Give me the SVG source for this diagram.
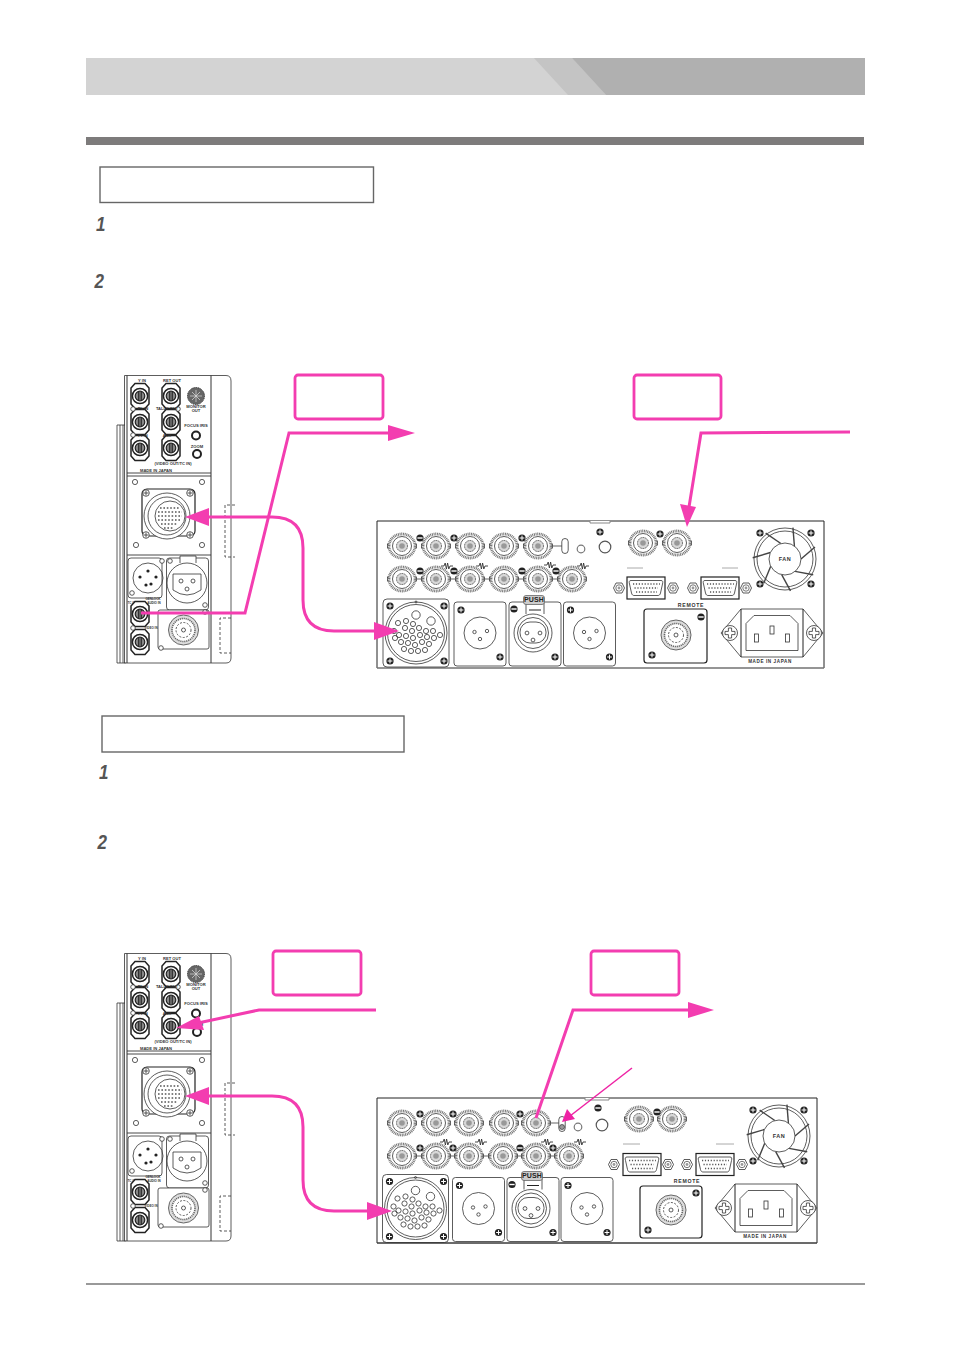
<svg xmlns="http://www.w3.org/2000/svg" xmlns:xlink="http://www.w3.org/1999/xlink" width="954" height="1350" viewBox="0 0 954 1350">
<style>
text{font-family:"Liberation Sans",Arial,sans-serif;font-weight:bold;fill:#333;text-anchor:middle}
.n{font-size:20px;font-style:italic;fill:#555;text-anchor:start}
.t4{font-size:4.100px}
.t5{font-size:5.200px;letter-spacing:.7px}
.o{fill:none;stroke:#333;stroke-width:.8}
.w{fill:#fff;stroke:#333;stroke-width:.8}
.k{fill:#fff;stroke:#222;stroke-width:1.200}
.g{fill:none;stroke:#999;stroke-width:1.500}
.hb{fill:none;stroke:#f33db0;stroke-width:3;stroke-linejoin:miter}
.pk{fill:#f33db0}
.call{fill:#fff;stroke:#f33db0;stroke-width:2.800}
.lbl{fill:#fff;stroke:#666;stroke-width:1.400}
</style>
<defs>
<g id="screw"><circle r="3.600" fill="#222"/><path d="M-2.400 0H2.400M0-2.400V2.400" stroke="#fff" stroke-width="1"/></g>
<g id="bigscrew"><circle r="7.500" class="w"/><path d="M-1.600-5H1.600V-1.600H5V1.600H1.600V5H-1.600V1.600H-5V-1.600H-1.600Z" class="w"/></g>
<g id="minus"><circle r="3.600" fill="#222"/><path d="M-2.600 0H2.600" stroke="#fff" stroke-width="1.400"/></g>
<g id="hole"><circle r="2.600" class="w"/></g>
<g id="bnc"><rect x="-14.500" y="-2" width="2" height="4" class="o"/><rect x="12.500" y="-2" width="2" height="4" class="o"/><ellipse rx="13" ry="12" fill="#fff" stroke="#777" stroke-width="2.800" stroke-dasharray="1 .7"/><circle r="9.500" class="w"/><circle r="5.500" fill="#d8d8d8" stroke="#555" stroke-width="1" stroke-dasharray="1.200 .6"/><circle r="2.800" fill="#999"/></g>
<g id="sbnc"><path d="M-5-12.500H5L9-8V8L5 12.500H-5L-9 8V-8Z" fill="#fff" stroke="#222" stroke-width="1.500"/><circle r="7.600" fill="#fff" stroke="#222" stroke-width="1.500"/><circle r="4.800" fill="#888" stroke="#222" stroke-width="1.200"/><path d="M-1.200-4V4M1.200-4V4" stroke="#111" stroke-width="1"/></g>
<path id="res" d="M-6 0H-3L-1.800-3-.6 3 .6-3 1.800 3 3 0H6" fill="none" stroke="#333" stroke-width=".9"/>
<g id="toggle"><rect x="-3.200" y="-7.500" width="6.400" height="15" rx="3.200" class="w"/></g>
<g id="nut"><path d="M-5.500 0-3-5H3L5.500 0 3 5H-3Z" class="w"/><circle r="3.200" fill="#fff" stroke="#777" stroke-width="1"/><circle r="1.400" fill="#999"/></g>
<g id="bigconn"><rect x="-33" y="-34" width="66" height="68" rx="4" class="o"/><circle r="31" class="w" stroke-width="1"/><circle r="28.500" class="o"/><circle r="1" cy="-31" class="o"/>
<g class="o"><circle cx="0" cy="-18" r="4.200"/><circle cx="15" cy="-12" r="4.200"/><circle cx="-18" cy="-10" r="2.600"/><circle cx="-10" cy="-12" r="2.600"/><circle cx="-3" cy="-9" r="2.600"/><circle cx="-11" cy="-5" r="2.600"/><circle cx="-4" cy="-2" r="2.600"/><circle cx="3" cy="-5" r="2.600"/><circle cx="10" cy="-2" r="2.600"/><circle cx="17" cy="-2" r="2.600"/><circle cx="-22" cy="-2" r="2.600"/><circle cx="-17" cy="2" r="2.600"/><circle cx="-10" cy="3" r="2.600"/><circle cx="-3" cy="5" r="2.600"/><circle cx="4" cy="2" r="2.600"/><circle cx="11" cy="4" r="2.600"/><circle cx="18" cy="5" r="2.600"/><circle cx="24" cy="2" r="2.600"/><circle cx="-21" cy="5" r="2.600"/><circle cx="-15" cy="9" r="2.600"/><circle cx="-8" cy="10" r="2.600"/><circle cx="-1" cy="12" r="2.600"/><circle cx="6" cy="9" r="2.600"/><circle cx="13" cy="11" r="2.600"/><circle cx="-12" cy="16" r="2.600"/><circle cx="-5" cy="18" r="2.600"/><circle cx="2" cy="18" r="2.600"/><circle cx="9" cy="17" r="2.600"/></g>
<use href="#screw" x="-26" y="-27"/><use href="#screw" x="28" y="-27"/><use href="#screw" x="-26" y="28"/><use href="#screw" x="28" y="28"/></g>
<g id="xlrm"><rect x="-26" y="-32" width="52" height="64" rx="3" class="o" stroke="#666"/><circle r="16" class="o" cy="-1"/><circle cx="-5.500" cy="-2" r="1.700" class="o"/><circle cx="7" cy="-3" r="1.700" class="o"/><circle cx="0" cy="5" r="1.700" class="o"/><use href="#screw" x="-19" y="-24"/><use href="#screw" x="20" y="23"/></g>
<g id="xlrf"><rect x="-26" y="-32" width="52" height="64" rx="3" class="o" stroke="#666"/><path d="M-9-20V-31H9V-20" class="w"/><path d="M-6-24H6" stroke="#222" stroke-width="1"/><circle cx="-2" cy="-1" r="19" class="w"/><circle cx="-2" cy="-1" r="15.500" class="o"/><rect x="-15" y="-12" width="26" height="21" rx="10" class="o"/><circle cx="-8" cy="-1" r="1.900" class="o"/><circle cx="5" cy="-1" r="1.900" class="o"/><circle cx="-2" cy="6" r="1.900" class="o"/><use href="#minus" x="-21" y="-25"/><use href="#screw" x="20" y="23"/></g>
<g id="push"><rect x="-10.500" y="-4.500" width="21" height="9" rx="2.500" fill="#ccc" stroke="#555" stroke-width=".7"/><text y="2.400" font-size="7" style="letter-spacing:.2px;fill:#222">PUSH</text></g>
<g id="vga"><rect x="-19" y="-11" width="38" height="22" class="k"/><path d="M-15-7.500H15C17-7.500 17-6 16.500-4L14.500 5C14 7 13 7.500 12 7.500H-12C-13 7.500-14 7-14.500 5L-16.500-4C-17-6-17-7.500-15-7.500Z" class="o"/><path d="M-13-4H14M-11.500 0H12M-10 4H11" stroke="#555" stroke-width="1.300" stroke-dasharray="1.200 1.700" fill="none"/></g>
<g id="fan"><circle r="31" class="w" stroke-width="1"/><circle r="28" class="o"/><g stroke="#444" stroke-width="1.400"><path d="M16 0 30-12"/><path d="M16 0 30-12" transform="rotate(51)"/><path d="M16 0 30-12" transform="rotate(102)"/><path d="M16 0 30-12" transform="rotate(153)"/><path d="M16 0 30-12" transform="rotate(204)"/><path d="M16 0 30-12" transform="rotate(255)"/><path d="M16 0 30-12" transform="rotate(306)"/></g><circle r="16" class="w" stroke-width="1.200"/><text y="2" font-size="5.500" style="letter-spacing:.5px">FAN</text></g>
<g id="rem"><circle r="15" fill="#ddd" stroke="#666" stroke-width="1"/><circle r="11.500" fill="#fff" stroke="#666" stroke-width="1.600" stroke-dasharray="1.200 .8"/><circle r="7.500" class="o" stroke-dasharray="2 1.500"/><circle r="2" class="o"/></g>
<g id="power"><path d="M-31-24H31L51 0 31 24H-31L-51 0Z" class="w" stroke-width="1"/><path d="M-31-24V24M31-24V24" stroke="#222" stroke-width="1"/><path d="M-18-17H18L26-9V18H-26V-9Z" class="o" transform="translate(0 -.5)"/><rect x="-17.500" y="1" width="4" height="8" class="o" stroke-width="1"/><rect x="-2" y="-7" width="4" height="8" class="o" stroke-width="1"/><rect x="13.500" y="1" width="4" height="8" class="o" stroke-width="1"/><use href="#bigscrew" x="-42"/><use href="#bigscrew" x="42"/></g>
<g id="side">
<path d="M124.500 375.500H226Q231 375.500 231 381V658Q231 663 226 663H124.500Z" class="w" stroke-width="1"/>
<path d="M117 425H125M117 425V663H125.500M120 425V663M123 425V663" class="o" stroke="#555"/>
<path d="M127 375.500V663M211 375.500V663" stroke="#333" stroke-width="1" fill="none"/>
<path d="M127 473H211M127 476H211M127 555H211" stroke="#333" stroke-width=".9" fill="none"/>
<use href="#sbnc" x="140" y="396"/><use href="#sbnc" x="171" y="396"/><use href="#sbnc" x="140" y="422"/><use href="#sbnc" x="171" y="422"/><use href="#sbnc" x="140" y="448"/><use href="#sbnc" x="171" y="448"/>
<circle cx="133" cy="409" r="2.300" class="w"/><circle cx="178" cy="409" r="2.300" class="w"/><circle cx="133" cy="435" r="2.300" class="w"/>
<circle cx="196" cy="396" r="8.500" fill="#666" stroke="#333" stroke-dasharray="1.200 .7"/><path d="M196 390V402M190 396H202M192 392 200 400M200 392 192 400" stroke="#ddd" stroke-width=".7"/>
<circle cx="196" cy="435.500" r="4" fill="#fff" stroke="#222" stroke-width="2"/><circle cx="197" cy="454" r="4" fill="#fff" stroke="#222" stroke-width="2"/>
<text class="t4" x="142" y="382">Y IN</text><text class="t4" x="172" y="382">RET OUT</text><text class="t4" x="196" y="408">MONITOR</text><text class="t4" x="196" y="412">OUT</text><text class="t4" x="143" y="410">Pb IN</text><text class="t4" x="167" y="410">TALLY OUT</text><text class="t4" x="196" y="427">FOCUS IRIS</text><text class="t4" x="143" y="437">Pr IN</text><text class="t4" x="167" y="437">AUX</text><text class="t4" x="197" y="448">ZOOM</text><text class="t4" x="173" y="465">(VIDEO OUT/TC IN)</text><text class="t4" x="156" y="472">MADE IN JAPAN</text>
<rect x="142" y="489" width="53" height="47" rx="5" class="k"/>
<g class="w"><circle cx="146" cy="493" r="3.300"/><circle cx="190" cy="493" r="3.300"/><circle cx="146" cy="535" r="3.300"/><circle cx="190" cy="535" r="3.300"/></g>
<path d="M143.500 493H148.500M146 490.500V495.500M187.500 493H192.500M190 490.500V495.500M143.500 535H148.500M146 532.500V537.500M187.500 535H192.500M190 532.500V537.500" stroke="#333" stroke-width=".8"/>
<circle cx="167" cy="516" r="23" class="w" stroke-width="1"/><circle cx="167" cy="516" r="19" class="o"/><circle cx="170" cy="516" r="15" class="o"/>
<path d="M160 508H180M158 512H182M158 516H182M158 520H180M161 524H178M164 528H174" stroke="#555" stroke-width="1.600" stroke-dasharray="1.600 1.800" fill="none"/>
<use href="#hole" x="135" y="482"/><use href="#hole" x="202" y="482"/><use href="#hole" x="136" y="545"/><use href="#hole" x="202" y="545"/>
<rect x="128" y="558" width="34" height="40" rx="3" class="o"/><circle cx="148" cy="578" r="15" class="o" stroke-width="1.200"/><circle cx="148" cy="571" r="1.600" fill="#222"/><circle cx="140" cy="577" r="1.600" fill="#222"/><circle cx="156" cy="577" r="1.600" fill="#222"/><circle cx="146" cy="585" r="1.600" fill="#222"/><circle cx="151" cy="584" r="1.600" fill="#222"/><circle cx="132" cy="593" r="2.300" class="w"/><circle cx="162" cy="561" r="2.300" class="w"/><circle cx="170" cy="561" r="2.300" class="w"/>
<rect x="166.500" y="558" width="42" height="52" rx="3" class="o"/><path d="M180 563V556H196V563" class="w"/><circle cx="187" cy="583" r="20" class="w" stroke-width="1"/><path d="M173 574H201V590Q187 600 173 590Z" class="o"/><circle cx="181" cy="581" r="2" class="o"/><circle cx="193" cy="581" r="2" class="o"/><circle cx="187" cy="589" r="2" class="o"/><circle cx="205" cy="605" r="2.300" class="w"/>
<text style="font-size:3px" x="133" y="604">TC OUT</text><text style="font-size:3px" x="153" y="600">GENLOCK</text><text style="font-size:3px" x="154" y="604">AUDIO IN</text><text style="font-size:3px" x="151" y="629">VIDEO IN</text>
<use href="#sbnc" x="140" y="614"/><use href="#sbnc" x="140" y="642"/><circle cx="133" cy="628" r="2.300" class="w"/>
<rect x="158" y="610" width="51" height="39" rx="2" class="w" stroke-width="1"/><use href="#rem" x="183.500" y="630"/><circle cx="161" cy="648" r="2.300" class="w"/><circle cx="205" cy="612" r="2.300" class="w"/>
<path d="M235 505H225V557H235M231 618H220V653H231" fill="none" stroke="#333" stroke-width=".8" stroke-dasharray="3 2"/>
</g>
</defs>

<g id="header"><rect x="86" y="58" width="779" height="37" fill="#d3d3d3"/><path d="M534 58H572L606 95H568Z" fill="#c4c4c4"/><path d="M572 58H865V95H606Z" fill="#b0b0b0"/></g>
<rect id="section-bar" x="86" y="137" width="778" height="8" fill="#7d7b7b"/>
<rect id="title-box-1" class="lbl" x="100" y="167" width="273.500" height="35.500"/>
<g id="steps-1"><text class="n" transform="translate(96 231) scale(.85 1)">1</text><text class="n" transform="translate(94.500 288) scale(.85 1)">2</text></g>
<rect id="title-box-2" class="lbl" x="102" y="716" width="302" height="36"/>
<g id="steps-2"><text class="n" transform="translate(99 779) scale(.85 1)">1</text><text class="n" transform="translate(97.500 849) scale(.85 1)">2</text></g>
<line id="footer-rule" x1="86" y1="1284" x2="865" y2="1284" stroke="#777" stroke-width="1.500"/>

<g id="side-panel-1"><use href="#side"/></g>
<g id="side-panel-2"><use href="#side" y="578"/></g>

<g id="rear-panel-1">
<path d="M824 668H377V521H824V668" fill="#fff" stroke="#222" stroke-width="1"/><path d="M377 668H824" stroke="#999" stroke-width="1"/><path d="M590 521V523H610V521" fill="#fff" stroke="#888"/>
<path class="g" d="M402 579H572M538 546H562" stroke-width="1.200"/>
<use href="#bnc" x="402" y="546"/><use href="#bnc" x="436" y="546"/><use href="#bnc" x="470" y="546"/><use href="#bnc" x="504" y="546"/><use href="#bnc" x="538" y="546"/>
<use href="#bnc" x="402" y="579"/><use href="#bnc" x="436" y="579"/><use href="#bnc" x="470" y="579"/><use href="#bnc" x="504" y="579"/><use href="#bnc" x="538" y="579"/><use href="#bnc" x="572" y="579"/>
<use href="#minus" x="420" y="538"/><use href="#screw" x="454" y="538"/><use href="#screw" x="522" y="538"/><use href="#minus" x="420" y="571"/><use href="#minus" x="454" y="571"/><use href="#minus" x="522" y="571"/><use href="#minus" x="556" y="571"/>
<use href="#res" x="447" y="566"/><use href="#res" x="482" y="566"/><use href="#res" x="550" y="565"/><use href="#res" x="583" y="566"/>
<use href="#toggle" x="565" y="546"/><circle cx="581" cy="549" r="3.800" fill="#fff" stroke="#777" stroke-width="1.200"/><circle cx="605" cy="547" r="5.800" fill="#fff" stroke="#555" stroke-width="1.200"/><use href="#screw" x="600" y="532"/>
<use href="#bigconn" x="416" y="633"/>
<use href="#xlrm" x="480" y="634"/><use href="#xlrf" x="535" y="634"/><use href="#xlrm" x="589.500" y="634"/><use href="#push" x="534" y="600"/>
<use href="#bnc" x="643" y="543"/><use href="#bnc" x="677" y="543"/><use href="#screw" x="660" y="534"/>
<use href="#fan" x="785" y="559"/><use href="#screw" x="760" y="533"/><use href="#screw" x="811" y="533"/><use href="#screw" x="760" y="584"/><use href="#screw" x="811" y="584"/>
<path d="M627 568H643M722 568H738" stroke="#aaa" stroke-width="1"/>
<use href="#nut" x="619" y="588"/><use href="#vga" x="646" y="588"/><use href="#nut" x="673" y="588"/><use href="#nut" x="693" y="588"/><use href="#vga" x="720" y="588"/><use href="#nut" x="746" y="588"/>
<text class="t5" x="691" y="607">REMOTE</text>
<rect x="644" y="609" width="63" height="54" rx="3" class="k"/><use href="#rem" x="676" y="635"/><use href="#minus" x="701" y="617"/><use href="#screw" x="652" y="655"/>
<use href="#power" x="772" y="633"/><text style="font-size:4.600px;letter-spacing:.6px" x="770" y="663">MADE IN JAPAN</text>
</g>

<g id="rear-panel-2">
<path d="M817 1243H377V1098H817V1243" fill="#fff" stroke="#222" stroke-width="1"/><path d="M377 1243H817" stroke="#444" stroke-width="1"/><path d="M585 1098V1100H609V1098" fill="#fff" stroke="#888"/>
<path class="g" d="M402 1156H569M536 1123H560" stroke-width="1.200"/>
<use href="#bnc" x="402" y="1123"/><use href="#bnc" x="436" y="1123"/><use href="#bnc" x="469" y="1123"/><use href="#bnc" x="504" y="1123"/><use href="#bnc" x="536" y="1123"/>
<use href="#bnc" x="402" y="1156"/><use href="#bnc" x="436" y="1156"/><use href="#bnc" x="469" y="1156"/><use href="#bnc" x="503" y="1156"/><use href="#bnc" x="536" y="1156"/><use href="#bnc" x="569" y="1156"/>
<use href="#screw" x="420" y="1114"/><use href="#screw" x="453" y="1114"/><use href="#screw" x="520" y="1114"/><use href="#screw" x="420" y="1148"/><use href="#screw" x="453" y="1148"/><use href="#minus" x="520" y="1148"/><use href="#screw" x="553" y="1148"/>
<use href="#res" x="446" y="1142"/><use href="#res" x="481" y="1142"/><use href="#res" x="547" y="1142"/><use href="#res" x="580" y="1142"/>
<use href="#toggle" x="562" y="1124"/><circle cx="562" cy="1127" r="2.500" fill="#999" stroke="#333" stroke-width=".7"/><circle cx="578" cy="1127" r="3.800" fill="#fff" stroke="#777" stroke-width="1.200"/><circle cx="602" cy="1125" r="5.800" fill="#fff" stroke="#555" stroke-width="1.200"/><use href="#minus" x="598" y="1108"/>
<use href="#bigconn" x="415.500" y="1208.500"/>
<use href="#xlrm" x="478.500" y="1209.500"/><use href="#xlrf" x="533" y="1209.500"/><use href="#xlrm" x="587" y="1209.500"/><use href="#push" x="532" y="1176"/>
<use href="#bnc" x="639" y="1119"/><use href="#bnc" x="672" y="1119"/><use href="#minus" x="657" y="1112"/>
<use href="#fan" x="779" y="1136"/><use href="#screw" x="753" y="1110"/><use href="#screw" x="804" y="1110"/><use href="#screw" x="753" y="1161"/><use href="#screw" x="804" y="1161"/>
<path d="M623 1144H640M716 1144H734" stroke="#aaa" stroke-width="1"/>
<use href="#nut" x="614" y="1164.500"/><use href="#vga" x="642" y="1164.500"/><use href="#nut" x="668" y="1164.500"/><use href="#nut" x="687" y="1164.500"/><use href="#vga" x="715" y="1164.500"/><use href="#nut" x="742" y="1164.500"/>
<text class="t5" x="687" y="1183">REMOTE</text>
<rect x="640" y="1186" width="62" height="52" rx="3" class="k"/><use href="#rem" x="671" y="1210"/><use href="#screw" x="696" y="1193"/><use href="#screw" x="648" y="1230"/>
<use href="#power" x="766" y="1208"/><text style="font-size:4.600px;letter-spacing:.6px" x="765" y="1237.500">MADE IN JAPAN</text>
</g>

<g id="callouts">
<rect id="callout-1" class="call" x="295" y="375" width="88" height="44" rx="3"/>
<rect id="callout-2" class="call" x="634" y="375" width="87" height="44" rx="3"/>
<rect id="callout-3" class="call" x="273" y="951" width="88" height="44" rx="3"/>
<rect id="callout-4" class="call" x="591" y="951" width="88" height="44" rx="3"/>
</g>

<g id="connectors">
<path class="hb" d="M141 613H245L289 433H392"/><path class="pk" d="M415 433 388 425V441Z"/>
<path class="hb" d="M850 432 701 433 689 507"/><path class="pk" d="M687 527 680 504 696 507Z"/>
<path class="hb" d="M205 517H272Q303 517 303 548V600Q303 631 334 631H378"/><path class="pk" d="M185 517 209 508V526Z"/><path class="pk" d="M399 631 374 622V640Z"/>
<path class="hb" d="M376 1010H259L198 1023"/><path class="pk" d="M176 1028 199 1016 204 1030Z"/>
<path class="hb" d="M536 1118 573 1010H692"/><path class="pk" d="M714 1010 688 1002V1018Z"/>
<path d="M632 1068 570 1116" fill="none" stroke="#ee22a4" stroke-width="1.500"/><path d="M562 1122 567 1109 575 1119Z" fill="#ee22a4"/>
<path class="hb" d="M205 1096H272Q303 1096 303 1127V1180Q303 1211 334 1211H370"/><path class="pk" d="M185 1096 209 1087V1105Z"/><path class="pk" d="M392 1211 367 1202V1220Z"/>
</g>
</svg>
